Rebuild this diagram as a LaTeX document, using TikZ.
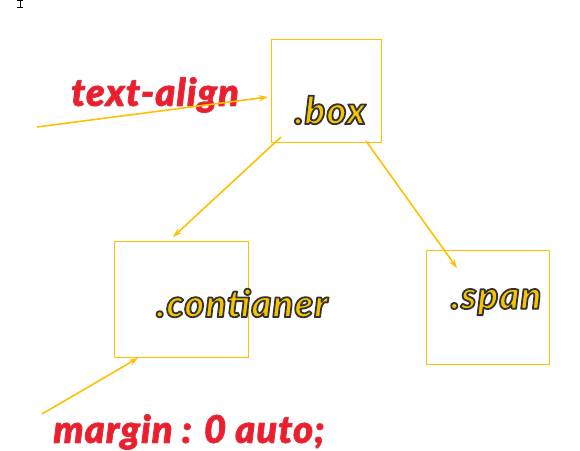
\documentclass[tikz,border=0pt]{standalone}
\usepackage{fontspec}
\setmainfont{Open Sans}
\IfFontExistsTF{Lato Black Italic}{\newfontfamily\heavy[LetterSpace=3]{Lato Black Italic}}{%
  \newfontfamily\heavy[LetterSpace=3]{Open Sans Bold Italic}}
\usetikzlibrary{arrows.meta}
\definecolor{gold}{HTML}{FFC000}
\definecolor{goldtxt}{HTML}{F8C400}
\definecolor{redtxt}{HTML}{EE1C2C}
\tikzset{
  frame/.style={draw=gold, line width=0.8pt, inner sep=0pt},
  link/.style={draw=gold, line width=1.6pt, -{Stealth[length=9pt,width=6pt]}},
  yeltxt/.style={font=\fontsize{38}{42}\selectfont\heavy, text=goldtxt, inner sep=0pt},
  redlab/.style={font=\fontsize{38}{42}\selectfont\heavy, text=redtxt, inner sep=0pt},
}
\newcommand{\yel}[1]{\special{pdf:literal 0.2 0.2 0.2 RG 1.8 w 1 j 2 Tr}#1\special{pdf:literal 0 Tr}}
\newcommand{\rdl}[1]{\special{pdf:literal 0.87 0.2 0.25 RG 1.0 w 1 j 2 Tr}#1\special{pdf:literal 0 Tr}}
\begin{document}
\begin{tikzpicture}[x=1pt,y=-1pt]
\useasboundingbox (0,0) rectangle (580,450);
% cursor
\draw[line width=0.6pt] (17,0.5) -- (23,0.5) (20,0.5) -- (20,7) (17,7) -- (23,7);
% frames
\node[frame, minimum width=110pt, minimum height=103pt] (box) at (326,90.5) {};
\node[frame, minimum width=134pt, minimum height=116pt] (cont) at (181,299) {};
\node[frame, minimum width=123pt, minimum height=114pt] (span) at (487.5,307) {};
% labels
\node[yeltxt] (boxt) at (330,110) {\yel{.box}};
\node[yeltxt] (contt) at (242,303) {\yel{.contianer}};
\node[yeltxt] (spant) at (496,302) {\yel{.span}};
\node[redlab] (ta) at (155,95) {\rdl{text-align}};
\node[redlab] (mg) at (189,432) {\rdl{margin : 0 auto;}};
% connector ends
\coordinate (taS) at (37,127);
\coordinate (taE) at (268,97);
\coordinate (b1) at (281,137);
\coordinate (c1) at (173,237);
\coordinate (b2) at (366,141);
\coordinate (s1) at (457,268);
\coordinate (mS) at (42,414);
\coordinate (mE) at (138,358);
% connectors
\draw[link] (taS) -- (taE);
\draw[link] (b1) -- (c1);
\draw[link] (b2) -- (s1);
\draw[link] (mS) -- (mE);
\end{tikzpicture}
\end{document}
